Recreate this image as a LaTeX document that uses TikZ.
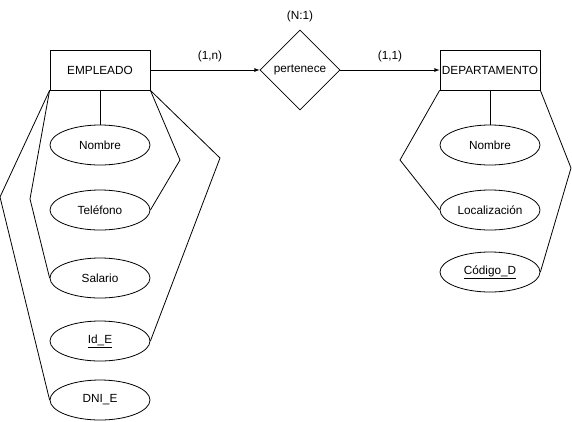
\documentclass[tikz,border=0pt]{standalone}
\usepackage{fontspec}
\setmainfont{Liberation Sans}
\usetikzlibrary{shapes.geometric}

\begin{document}
\begin{tikzpicture}[x=1pt,y=-1pt,line width=0.8pt,font=\fontsize{11.8}{14}\selectfont]
            \tikzstyle{entity}=[draw,rectangle,inner sep=0pt,minimum width=100pt,minimum height=40pt]
            \tikzstyle{attribute}=[draw,ellipse,inner sep=0pt,minimum width=100pt,minimum height=40pt]
            \tikzstyle{relation}=[draw,diamond,inner sep=0pt,minimum width=80pt,minimum height=80pt]
            \useasboundingbox (0,0) rectangle (572,421);

            \node (E) at (100,70) [entity] {EMPLEADO};
            \node (R) at (300,70) [relation] {pertenece};
            \node (D) at (490,70) [entity] {DEPARTAMENTO};

            \node (E1) at (100,145) [attribute] {Nombre};
            \node (E2) at (100,210) [attribute] {Teléfono};
            \node (E3) at (100,278) [attribute] {Salario};
            \node (E4) at (100,341) [attribute] {\underline{Id\_E}};
            \node (E5) at (100,400) [attribute] {DNI\_E};

            \node (D1) at (490,145) [attribute] {Nombre};
            \node (D2) at (490,210) [attribute] {Localización};
            \node (D3) at (490,272) [attribute] {\underline{Código\_D}};

            \node (N1) at (300,16) {(N:1)};
            \node (C1) at (210,56) {(1,n)};
            \node (C2) at (390,56) {(1,1)};

            \draw[-latex] (E) to (R);
            \draw[-latex] (R) to (D);

            \draw (E) to (E1);
            \draw (E.south east) -- (180,160) -- (E2.east);
            \draw (E.south west) -- (30,199) -- (E3.west);
            \draw (E.south east) -- (220,158) -- (E4.east);
            \draw (E.south west) -- (0,197) -- (E5.west);

            \draw (D) to (D1);
            \draw (D.south west) -- (400,160) -- (D2.west);
            \draw (D.south east) -- (571,168) -- (D3.east);
          \end{tikzpicture}
\end{document}
